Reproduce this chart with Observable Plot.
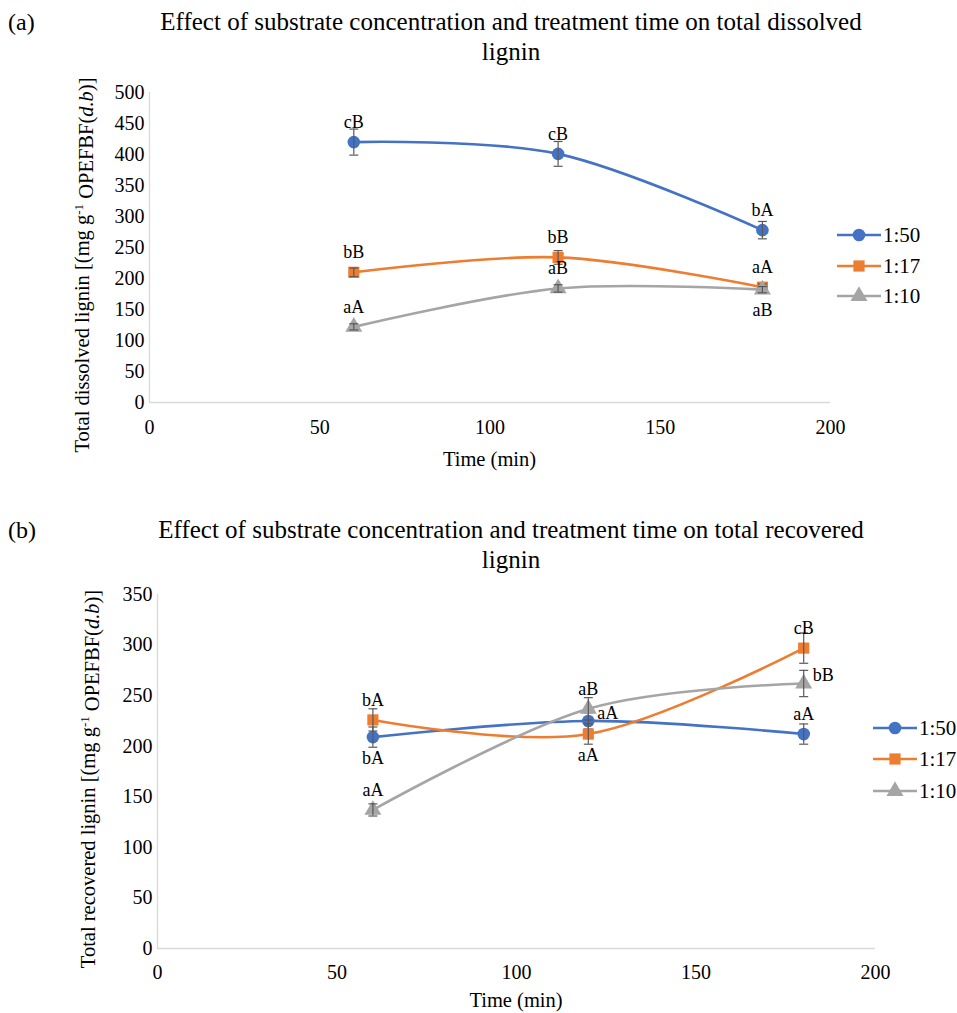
<!DOCTYPE html>
<html><head><meta charset="utf-8">
<script src="https://cdn.jsdelivr.net/npm/d3@7"></script>
<script src="https://cdn.jsdelivr.net/npm/@observablehq/plot@0.6"></script>
<style>
body{margin:0;background:#fff;font-family:"Liberation Serif","Times New Roman",serif;color:#000;}
#page{position:relative;width:957px;height:1013px;overflow:hidden;background:#fff;}
.abs{position:absolute;}
.title{font-size:25px;line-height:30px;text-align:center;white-space:nowrap;}
.tag{font-size:24px;line-height:30px;}
.lrow{position:absolute;display:flex;align-items:center;height:24px;font-size:21px;white-space:nowrap;}
.lrow svg{display:block;margin-right:2px;}
svg text{font-family:"Liberation Serif","Times New Roman",serif;}
</style></head><body><div id="page"></div>
<script>
// ---------- data ----------
const times = [60, 120, 180];
const ratios = ["1:50", "1:17", "1:10"];
const colors = ["#4472C4", "#ED7D31", "#A5A5A5"];
const symbols = ["circle", "square", "triangle"];
const xTicks = [0, 50, 100, 150, 200];

// (a) total dissolved lignin
const dissolved_1_50 = [420, 401, 278];
const dissolved_1_17 = [210, 234, 186];
const dissolved_1_10 = [122, 184, 182];
const dissolvedErr_1_50 = [21, 20, 14];
const dissolvedErr_1_17 = [7, 11, 5];
const dissolvedErr_1_10 = [5, 6, 5];
const dissolvedLetters_1_50 = ["cB", "cB", "bA"];
const dissolvedLetters_1_17 = ["bB", "bB", "aA"];
const dissolvedLetters_1_10 = ["aA", "aB", "aB"];
const dissolvedLetterSide_1_50 = ["above", "above", "above"];
const dissolvedLetterSide_1_17 = ["above", "above", "above"];
const dissolvedLetterSide_1_10 = ["above", "above", "below"];

// (b) total recovered lignin
const recovered_1_50 = [209, 225, 212];
const recovered_1_17 = [226, 212, 297];
const recovered_1_10 = [137, 237, 262];
const recoveredErr_1_50 = [10, 8, 10];
const recoveredErr_1_17 = [11, 10, 15];
const recoveredErr_1_10 = [6, 11, 13];
const recoveredLetters_1_50 = ["bA", "aA", "aA"];
const recoveredLetters_1_17 = ["bA", "aA", "cB"];
const recoveredLetters_1_10 = ["aA", "aB", "bB"];
const recoveredLetterSide_1_50 = ["below", "right", "above"];
const recoveredLetterSide_1_17 = ["above", "below", "above"];
const recoveredLetterSide_1_10 = ["above", "above", "right"];

// ---------- build rows ----------
function buildRows(values, errs, letters, sides) {
  const rows = [];
  ratios.forEach((r, i) => times.forEach((t, j) => rows.push({
    ratio: r, time: t, value: values[i][j], err: errs[i][j], letter: letters[i][j], side: sides[i][j]
  })));
  return rows;
}
const rowsA = buildRows(
  [dissolved_1_50, dissolved_1_17, dissolved_1_10],
  [dissolvedErr_1_50, dissolvedErr_1_17, dissolvedErr_1_10],
  [dissolvedLetters_1_50, dissolvedLetters_1_17, dissolvedLetters_1_10],
  [dissolvedLetterSide_1_50, dissolvedLetterSide_1_17, dissolvedLetterSide_1_10]);
const rowsB = buildRows(
  [recovered_1_50, recovered_1_17, recovered_1_10],
  [recoveredErr_1_50, recoveredErr_1_17, recoveredErr_1_10],
  [recoveredLetters_1_50, recoveredLetters_1_17, recoveredLetters_1_10],
  [recoveredLetterSide_1_50, recoveredLetterSide_1_17, recoveredLetterSide_1_10]);

const capSymbol = { draw(ctx) { ctx.moveTo(-4.5, 0); ctx.lineTo(4.5, 0); } };
const FONT = '"Liberation Serif","Times New Roman",serif';

function makePanel(rows, o) {
  const marks = [
    Plot.ruleY([0], {stroke: "#d9d9d9", strokeWidth: 1.3}),
    Plot.ruleX([0], {stroke: "#d9d9d9", strokeWidth: 1.3}),
    Plot.axisX({ticks: xTicks, tickSize: 0, tickPadding: o.xPad, label: null, fontSize: 20, fontFamily: FONT, fill: "#000"}),
    Plot.axisY({ticks: d3.range(0, o.ymax + 1, 50), tickSize: 0, tickPadding: 5, label: null, fontSize: 20, fontFamily: FONT, fill: "#000"})
  ];
  ratios.forEach(r => {
    const s = rows.filter(d => d.ratio === r);
    marks.push(
      Plot.line(s, {x: "time", y: "value", stroke: "ratio", strokeWidth: 2.6, curve: "cardinal"}),
      Plot.dot(s, {x: "time", y: "value", symbol: "ratio", fill: "ratio", r: 6.3}),
      Plot.ruleX(s, {x: "time", y1: d => d.value - d.err, y2: d => d.value + d.err, stroke: "#595959", strokeWidth: 1.2}),
      Plot.dot(s, {x: "time", y: d => d.value + d.err, symbol: capSymbol, stroke: "#595959", strokeWidth: 1.2, fill: "none"}),
      Plot.dot(s, {x: "time", y: d => d.value - d.err, symbol: capSymbol, stroke: "#595959", strokeWidth: 1.2, fill: "none"})
    );
  });
  const lab = {x: "time", y: "value", text: "letter", fontSize: 18, fontFamily: FONT, fill: "#000"};
  marks.push(
    Plot.text(rows.filter(d => d.side === "above"), {...lab, dy: -20}),
    Plot.text(rows.filter(d => d.side === "below"), {...lab, dy: 21}),
    Plot.text(rows.filter(d => d.side === "right"), {...lab, dx: 9, dy: -8, textAnchor: "start"})
  );
  const svg = Plot.plot({
    width: 957, height: o.height,
    marginTop: o.mt, marginBottom: o.mb, marginLeft: o.ml, marginRight: o.mr,
    style: {fontFamily: FONT, fontSize: "20px", color: "#000", background: "transparent", overflow: "visible"},
    x: {domain: [0, 200]},
    y: {domain: [0, o.ymax]},
    color: {domain: ratios, range: colors},
    symbol: {domain: ratios, range: symbols},
    marks
  });
  svg.style.position = "absolute";
  svg.style.left = "0px";
  svg.style.top = o.top + "px";
  const sel = d3.select(svg);
  sel.append("text").attr("x", o.xtx).attr("y", o.xty).attr("text-anchor", "middle").attr("dy", "0.35em")
    .style("font-family", FONT).style("font-size", "20.5px").attr("fill", "#000").text("Time (min)");
  const t = sel.append("text").attr("transform", `translate(${o.ytx},${o.yty}) rotate(-90)`)
    .attr("text-anchor", "middle").attr("dy", "0.35em")
    .style("font-family", FONT).style("font-size", "20.5px").attr("fill", "#000");
  t.append("tspan").text(o.ylabel + " [(mg g");
  t.append("tspan").attr("dy", "-0.45em").style("font-size", "13px").text("-1");
  t.append("tspan").attr("dy", "0.45em").text(" OPEFBF(");
  t.append("tspan").style("font-style", "italic").text("d.b");
  t.append("tspan").text(")]");
  return svg;
}

const page = document.getElementById("page");
function addDiv(cls, html, style) {
  const d = document.createElement("div");
  d.className = cls; d.innerHTML = html;
  Object.assign(d.style, style);
  page.appendChild(d); return d;
}
function addLegend(left, tops) {
  ratios.forEach((r, i) => {
    const row = document.createElement("div");
    row.className = "lrow";
    row.style.left = left + "px";
    row.style.top = (tops[i] - 12) + "px";
    const area = Math.PI * 40;
    const sym = {circle: d3.symbolCircle, square: d3.symbolSquare, triangle: d3.symbolTriangle}[symbols[i]];
    const path = d3.symbol(sym, area)();
    row.innerHTML = `<svg width="44" height="24"><line x1="0" x2="44" y1="12" y2="12" stroke="${colors[i]}" stroke-width="2.6"/><path d="${path}" transform="translate(22,12)" fill="${colors[i]}"/></svg><span>${r}</span>`;
    page.appendChild(row);
  });
}

// panel (a)
addDiv("abs tag", "(a)", {left: "8px", top: "7px"});
addDiv("abs title", "Effect of substrate concentration and treatment time on total dissolved<br>lignin", {left: "100px", width: "822px", top: "7px"});
page.appendChild(makePanel(rowsA, {top: 70, height: 430, mt: 22, mb: 98, ml: 149, mr: 127, ymax: 500, xPad: 17,
  xtx: 489.5, xty: 389, ytx: 82, yty: 195, ylabel: "Total dissolved lignin"}));
addLegend(837, [235, 266, 296]);

// panel (b)
addDiv("abs tag", "(b)", {left: "8px", top: "515px"});
addDiv("abs title", "Effect of substrate concentration and treatment time on total recovered<br>lignin", {left: "100px", width: "822px", top: "515px"});
page.appendChild(makePanel(rowsB, {top: 580, height: 433, mt: 14, mb: 65, ml: 157, mr: 82, ymax: 350, xPad: 16,
  xtx: 516, xty: 420, ytx: 88, yty: 199, ylabel: "Total recovered lignin"}));
addLegend(873, [728, 759, 791]);
</script></body></html>
